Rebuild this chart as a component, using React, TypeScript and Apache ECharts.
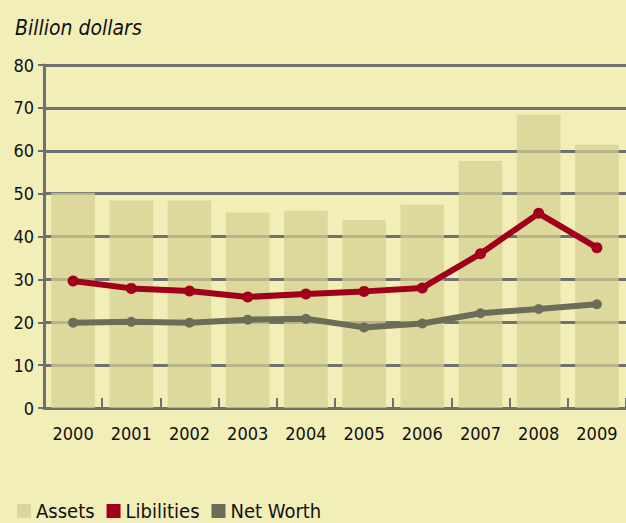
import React, { useEffect, useRef } from "react";
import * as echarts from "echarts";

const years = ["2000", "2001", "2002", "2003", "2004", "2005", "2006", "2007", "2008", "2009"];
const assets = [50.2, 48.4, 48.4, 45.6, 46.0, 43.8, 47.4, 57.6, 68.4, 61.4];
const liabilities = [29.6, 27.9, 27.3, 25.9, 26.6, 27.2, 28.0, 36.0, 45.4, 37.4];
const netWorth = [19.9, 20.1, 19.9, 20.6, 20.8, 18.8, 19.7, 22.1, 23.1, 24.2];
const yTicks = { min: 0, max: 80, interval: 10 };

const FONT = "'Liberation Sans Narrow', 'DejaVu Sans Condensed', 'Liberation Sans', sans-serif";

export default function App() {
  const ref = useRef<HTMLDivElement>(null);
  useEffect(() => {
    if (!ref.current) return;
    const chart = echarts.init(ref.current, null, { renderer: "svg" });
    chart.setOption({
      animation: false,
      backgroundColor: "#F2EEB8",
      textStyle: { fontFamily: FONT },
      title: {
        text: "Billion dollars",
        left: 10,
        top: 12,
        textStyle: { fontFamily: FONT, fontStyle: "italic", fontWeight: "normal", fontSize: 21, color: "#111" },
      },
      legend: {
        left: 12,
        bottom: -3,
        icon: "rect",
        itemWidth: 14,
        itemHeight: 14,
        itemGap: 12,
        textStyle: { fontFamily: FONT, fontSize: 20, color: "#111", padding: [0, 0, 0, 0] },
        data: [
          { name: "Assets", itemStyle: { color: "#DAD79B" } },
          { name: "Libilities", itemStyle: { color: "#A0001A" } },
          { name: "Net Worth", itemStyle: { color: "#6B6D58" } },
        ],
      },
      grid: { left: 44, right: 0, top: 65, bottom: 115, containLabel: false },
      xAxis: {
        type: "category",
        data: years,
        boundaryGap: true,
        axisLine: { show: true, lineStyle: { color: "#707070", width: 3 } },
        axisTick: { show: true, inside: true, length: 10, lineStyle: { color: "#707070", width: 2 } },
        axisLabel: { color: "#111", fontSize: 18, fontFamily: FONT, margin: 16 },
        splitLine: { show: false },
        z: 1,
      },
      yAxis: {
        type: "value",
        min: yTicks.min,
        max: yTicks.max,
        interval: yTicks.interval,
        axisLine: { show: true, lineStyle: { color: "#707070", width: 3 } },
        axisTick: { show: true, length: 6, lineStyle: { color: "#707070", width: 2 } },
        axisLabel: { color: "#111", fontSize: 18, fontFamily: FONT, margin: 10 },
        splitLine: { show: true, lineStyle: { color: "#707070", width: 3 } },
      },
      series: [
        {
          name: "Assets",
          type: "bar",
          data: assets,
          barWidth: "75%",
          itemStyle: { color: "rgba(212,208,145,0.72)" },
          z: 2,
        },
        {
          name: "Libilities",
          type: "line",
          data: liabilities,
          symbol: "circle",
          symbolSize: 11,
          lineStyle: { color: "#A0001A", width: 6 },
          itemStyle: { color: "#A0001A" },
          z: 4,
        },
        {
          name: "Net Worth",
          type: "line",
          data: netWorth,
          symbol: "circle",
          symbolSize: 10,
          lineStyle: { color: "#6B6D58", width: 6 },
          itemStyle: { color: "#6B6D58" },
          z: 3,
        },
      ],
    });
    return () => chart.dispose();
  }, []);
  return <div ref={ref} style={{ width: 626, height: 523, position: "absolute", left: 0, top: 0 }} />;
}
